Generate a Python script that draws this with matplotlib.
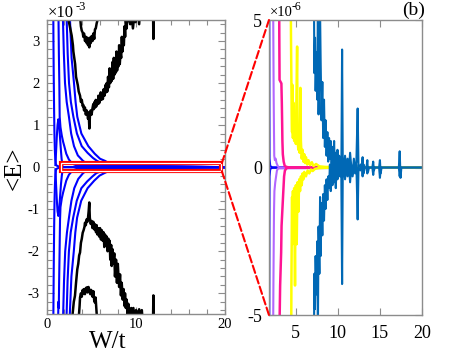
import matplotlib.pyplot as plt
from matplotlib.patches import Rectangle, ConnectionPatch
from matplotlib.ticker import MultipleLocator

plt.rcParams['font.family'] = ['Liberation Serif', 'DejaVu Serif']
plt.rcParams['axes.unicode_minus'] = False

# ---- left panel data, <E> in units of 1e-3 ----
b1_w = [0.74, 0.76, 0.79, 0.83, 0.87, 0.92, 0.97, 1.02, 1.1, 1.3, 1.6, 20]
b1_e = [3.8, 3.0, 2.2, 1.4, 0.8, 0.4, 0.18, 0.08, 0.04, 0.02, 0.0, 0.0]
hump_w = [0.98, 1.05, 1.13, 1.22, 1.31, 1.4, 1.5, 1.6, 1.68, 1.78]
hump_e = [0.05, 0.35, 0.7, 1.0, 1.14, 1.0, 0.7, 0.4, 0.19, 0.06]
b2_w = [1.30, 1.33, 1.37, 1.42, 1.46, 1.55, 1.7, 1.85, 1.98, 2.2, 2.5, 2.9, 3.5, 20]
b2_e = [3.8, 3.5, 2.7, 2.0, 1.2, 0.95, 0.75, 0.6, 0.5, 0.32, 0.18, 0.08, 0.03, 0]
b3_w = [1.80, 1.83, 1.93, 2.06, 2.25, 2.5, 2.75, 3.07, 3.5, 4.08, 4.6, 5.3, 20]
b3_e = [3.8, 3.5, 2.7, 2.0, 1.55, 1.2, 0.8, 0.5, 0.28, 0.15, 0.07, 0.03, 0]
b4_w = [2.22, 2.25, 2.36, 2.51, 2.72, 3.0, 3.4, 3.94, 4.6, 5.2, 5.66, 6.3, 7.0, 20]
b4_e = [3.8, 3.5, 2.7, 2.0, 1.55, 1.2, 0.8, 0.5, 0.34, 0.22, 0.15, 0.08, 0.04, 0]
b5_w = [2.58, 2.62, 2.8, 3.07, 3.25, 3.44, 3.9, 4.68, 5.4, 6.0, 6.56, 7.2, 8.0, 20]
b5_e = [3.8, 3.5, 2.6, 2.0, 1.55, 1.2, 0.8, 0.5, 0.32, 0.2, 0.15, 0.07, 0.03, 0]

nb1_w = [0.74, 0.77, 0.8, 0.84, 0.88, 0.93, 0.98, 1.03, 1.1, 1.3, 1.6, 20]
nb1_e = [-3.8, -3.0, -2.2, -1.4, -0.8, -0.4, -0.18, -0.08, -0.04, -0.02, 0, 0]
nhump_w = [0.98, 1.05, 1.13, 1.22, 1.31, 1.4, 1.5, 1.6, 1.7, 1.8]
nhump_e = [-0.05, -0.4, -0.75, -1.05, -1.16, -1.02, -0.72, -0.42, -0.2, -0.06]
nb2_w = [1.28, 1.30, 1.33, 1.36, 1.4, 1.45, 1.5, 1.55, 1.7, 1.85, 2.0, 2.2, 2.5, 2.9, 3.5, 20]
nb2_e = [-3.8, -3.45, -3.2, -3.35, -2.7, -2.0, -1.25, -0.95, -0.74, -0.6, -0.48, -0.32,
         -0.18, -0.08, -0.03, 0]
nb3_w = [1.82, 1.85, 1.95, 2.08, 2.28, 2.52, 2.78, 3.1, 3.55, 4.1, 4.6, 5.3, 20]
nb3_e = [-3.8, -3.5, -2.7, -2.0, -1.55, -1.18, -0.8, -0.5, -0.28, -0.14, -0.07, -0.03, 0]
nb4_w = [2.2, 2.24, 2.35, 2.5, 2.7, 2.98, 3.38, 3.9, 4.55, 5.15, 5.6, 6.3, 7.0, 20]
nb4_e = [-3.8, -3.5, -2.7, -2.0, -1.55, -1.2, -0.8, -0.5, -0.34, -0.22, -0.14, -0.08, -0.04, 0]
nb5_w = [2.56, 2.6, 2.78, 3.05, 3.22, 3.42, 3.88, 4.6, 5.35, 5.95, 6.5, 7.2, 8.0, 20]
nb5_e = [-3.8, -3.5, -2.6, -2.0, -1.55, -1.2, -0.8, -0.5, -0.32, -0.2, -0.14, -0.07, -0.03, 0]

# black noisy curves
k1_w = [2.36, 2.6, 2.81, 2.95, 3.0, 3.1, 3.2, 3.3, 3.4, 3.5, 3.6, 3.75, 3.85, 3.95, 4.05,
        4.12, 4.2, 4.3, 4.4, 4.5, 4.58, 4.65, 4.72, 4.8, 4.88, 4.95, 5.05, 5.15, 5.24,
        5.3, 5.38, 5.45, 5.52, 5.6, 5.68, 5.75, 5.82, 5.9, 6.0, 6.08, 6.15, 6.25, 6.32,
        6.4, 6.5, 6.6, 6.68, 6.75, 6.82, 6.9, 7.0, 7.08, 7.15, 7.25, 7.32, 7.4, 7.48,
        7.55, 7.62, 7.7, 7.78, 7.85, 7.92, 8.0, 8.08, 8.15, 8.22, 8.3, 8.38, 8.45, 8.52,
        8.6, 8.68, 8.75, 8.82, 8.9, 9.0, 9.1, 9.2, 9.4, 9.5, 9.7, 9.85, 10.0, 10.2, 10.4,
        10.55, 11.95, 12.0, 12.05, 20]
k1_e = [3.6, 3.35, 3.13, 2.9, 2.75, 2.6, 2.45, 2.15, 2.05, 1.95, 1.8, 1.7, 1.55, 1.6, 1.45,
        1.48, 1.35, 1.42, 1.25, 1.35, 1.28, 1.15, 1.3, 0.92, 1.3, 1.35, 1.25, 1.4, 1.5,
        1.38, 1.55, 1.42, 1.6, 1.45, 1.58, 1.5, 1.7, 1.52, 1.62, 1.78, 1.6, 1.75, 1.62,
        1.85, 1.7, 1.95, 1.78, 2.0, 1.8, 2.15, 1.9, 2.35, 2.0, 2.25, 2.05, 2.5, 2.1,
        2.6, 2.2, 2.45, 2.25, 2.75, 2.3, 2.55, 2.4, 2.9, 2.45, 2.7, 2.6, 3.1, 2.75,
        3.0, 2.9, 3.35, 3.1, 3.5, 3.3, 3.8, 3.55, 3.4, 3.7, 3.3, 3.6, 3.45, 3.8, 3.4,
        3.9, 3.9, 3.05, 3.9, 3.9]
k2_w = [3.75, 3.85, 3.94, 4.05, 4.12, 4.2, 4.31, 4.4, 4.5, 4.57, 4.65, 4.72, 4.79, 4.86,
        4.95, 5.06, 5.15, 5.25, 5.35, 5.43, 5.52, 5.62, 5.72, 5.8]
k2_e = [3.6, 3.35, 3.25, 3.2, 3.1, 3.18, 3.0, 3.1, 2.95, 3.08, 2.9, 3.0, 2.85, 3.08,
        2.95, 3.12, 3.0, 3.18, 3.05, 3.28, 3.3, 3.42, 3.5, 3.6]
k3_w = [2.85, 2.92, 3.05, 3.18, 3.3, 3.44, 3.55, 3.65, 3.75, 3.85, 3.95, 4.05, 4.15, 4.25,
        4.31, 4.4, 4.5, 4.57, 4.65, 4.72, 4.79, 4.85, 4.95, 5.06, 5.15, 5.25, 5.35, 5.45,
        5.55, 5.62, 5.7, 5.8, 5.9, 6.0, 6.1, 6.2, 6.3, 6.4, 6.48, 6.56, 6.65, 6.75, 6.85,
        6.93, 7.0, 7.08, 7.15, 7.25, 7.31, 7.4, 7.5, 7.6, 7.68, 7.8, 7.9, 8.0, 8.05, 8.15,
        8.25, 8.35, 8.44, 8.55, 8.65, 8.75, 8.81, 8.9, 9.0, 9.1, 9.18, 9.3, 9.5, 9.6,
        9.75, 9.9, 10.05, 10.2, 10.4, 10.55, 10.7, 10.85, 11.95, 12.0, 12.05, 20]
k3_e = [-3.6, -3.48, -3.2, -3.06, -2.75, -2.43, -2.3, -2.1, -2.03, -1.8, -1.7, -1.56, -1.5,
        -1.42, -1.32, -1.38, -1.24, -1.3, -1.2, -1.05, -0.84, -1.2, -1.35, -1.28, -1.45,
        -1.3, -1.48, -1.36, -1.55, -1.38, -1.6, -1.45, -1.65, -1.45, -1.72, -1.5, -1.75,
        -1.55, -1.9, -1.6, -1.85, -1.65, -2.0, -1.7, -1.95, -1.75, -2.2, -1.85, -2.35,
        -1.95, -2.3, -2.05, -2.6, -2.2, -2.75, -2.3, -2.5, -2.85, -2.55, -3.05, -2.75,
        -3.15, -2.9, -3.3, -3.0, -3.35, -3.15, -3.5, -3.25, -3.6, -3.35, -3.7, -3.35,
        -3.7, -3.4, -3.6, -3.38, -3.7, -3.4, -3.8, -3.8, -3.05, -3.8, -3.8]
k4_w = [3.6, 3.7, 3.75, 3.85, 3.95, 4.05, 4.12, 4.2, 4.3, 4.4, 4.5, 4.6, 4.7, 4.8, 4.9,
        5.0, 5.06, 5.15, 5.25, 5.35, 5.43, 5.5, 5.62, 5.7]
k4_e = [-3.6, -3.3, -3.1, -3.0, -3.08, -2.92, -3.0, -2.9, -3.02, -2.88, -2.86, -2.98,
        -2.85, -2.92, -3.02, -2.92, -3.0, -3.08, -2.95, -3.18, -3.22, -3.1, -3.48, -3.6]

# ---- right panel data, <E> in units of 1e-6 ----
blue_up_w = [1.84, 1.855, 1.87, 1.95, 2.2, 20]
blue_up_e = [5.5, 2.0, 0.3, 0.05, 0.0, 0]
blue_dn_w = [1.84, 1.855, 1.87, 1.95, 2.2, 20]
blue_dn_e = [-5.5, -2.0, -0.3, -0.05, 0.0, 0]
purp_up_w = [2.30, 2.33, 2.36, 2.40, 2.43, 2.5, 2.6, 2.7, 2.78, 2.85, 3.0, 20]
purp_up_e = [5.5, 4.0, 2.5, 1.2, 0.4, 0.25, 0.3, 0.15, 0.1, 0.05, 0.0, 0]
purp_dn_w = [2.3, 2.33, 2.37, 2.4, 2.45, 2.55, 2.65, 2.75, 2.9, 20]
purp_dn_e = [-5.5, -4.0, -2.5, -1.5, -0.8, -0.5, -0.3, -0.1, -0.03, 0]
mag_up_w = [3.02, 3.03, 3.05, 3.06, 3.28, 3.33, 3.37, 3.40, 3.45, 3.55, 3.68, 3.9, 4.2, 20]
mag_up_e = [5.5, 4.5, 3.5, 2.97, 2.85, 2.2, 1.5, 0.9, 0.45, 0.2, 0.05, 0.02, 0, 0]
mag_dn_w = [3.05, 3.13, 3.25, 3.3, 3.5, 3.6, 3.7, 3.9, 4.2, 20]
mag_dn_e = [-5.5, -4.0, -2.88, -1.98, -0.85, -0.3, -0.1, -0.02, 0, 0]
yel_up_w = [4.40, 4.42, 4.45, 4.48, 4.5, 4.55, 4.6, 4.65, 4.7, 4.8, 4.9, 5.0, 5.15, 5.2,
            5.3, 5.4, 5.45, 5.54, 5.6, 5.7, 5.8, 5.9, 6.0, 6.1, 6.2, 6.35, 6.5, 6.7, 6.9,
            7.1, 7.4, 7.8, 8.5, 20]
yel_up_e = [5.5, 4.5, 3.5, 2.6, 1.9, 1.2, 2.8, 1.0, 2.2, 0.9, 1.4, 0.8, 4.1, 0.9, 0.6,
            0.8, 0.5, 2.7, 0.9, 0.3, 0.6, 0.2, 0.45, 0.15, 0.35, 0.1, 0.25, 0.08, 0.18,
            0.05, 0.12, 0.04, 0.02, 0]
yel_dn_w = [4.45, 4.47, 4.5, 4.52, 4.55, 4.6, 4.65, 4.7, 4.8, 4.9, 4.95, 5.0, 5.1, 5.2,
            5.3, 5.4, 5.5, 5.6, 5.7, 5.8, 5.9, 6.0, 6.2, 6.4, 6.6, 6.8, 7.0, 7.3, 7.8, 8.5, 20]
yel_dn_e = [-5.5, -4.0, -2.8, -1.8, -1.0, -2.6, -0.8, -1.9, -0.7, -4.0, -1.2, -0.6, -2.6,
            -0.5, -1.5, -0.4, -0.8, -0.3, -0.6, -0.2, -0.4, -0.15, -0.3, -0.1, -0.2,
            -0.07, -0.12, -0.04, -0.02, -0.01, 0]
stl_up_w = [7.15, 7.2, 7.28, 7.35, 7.45, 7.55, 7.62, 7.7, 7.8, 7.85, 7.95, 8.05, 8.15,
            8.25, 8.35, 8.45, 8.55, 8.65, 8.75, 8.85, 8.95, 9.05, 9.15, 9.25, 9.35, 9.45,
            9.55, 9.65, 9.75, 9.85, 9.95, 10.05, 10.15, 10.3, 10.42, 10.5, 10.58, 10.7,
            10.85, 11.0, 11.15, 11.3, 11.45, 11.6, 11.75, 11.9, 12.05, 12.2, 12.35, 12.45,
            12.65, 12.85, 12.94, 13.05, 13.2, 13.4, 13.5, 13.58, 13.7, 14.1, 14.2, 14.28,
            14.4, 14.9, 15.0, 15.08, 15.2, 17.25, 17.35, 17.45, 17.55, 20]
stl_up_e = [6.0, 3.2, 4.4, 2.6, 3.9, 2.3, 5.6, 1.8, 3.4, 6.0, 3.6, 1.6, 2.9, 1.0, 2.3,
            0.7, 1.6, 0.4, 1.2, 0.2, 1.0, 0.3, 0.9, -0.2, 0.7, 0.1, 0.9, -0.3, 0.5, 0.0,
            0.6, -0.3, 0.4, 0.0, 0.3, 4.0, 0.1, -0.3, 0.4, -0.1, 0.3, -0.2, 0.5, 0.0, -0.2,
            0.3, -0.1, 0.2, 2.0, 0.0, -0.1, 0.1, 0.35, -0.2, 0.0, 0.0, 0.25, -0.15, 0.0,
            0.0, 0.2, -0.1, 0.0, 0.0, 0.25, -0.2, 0.0, 0.0, 0.55, -0.35, 0.0, 0]
stl_dn_w = [7.15, 7.2, 7.27, 7.35, 7.45, 7.55, 7.62, 7.7, 7.8, 7.88, 7.95, 8.05, 8.15,
            8.25, 8.35, 8.45, 8.55, 8.65, 8.75, 8.85, 8.95, 9.05, 9.15, 9.25, 9.35, 9.45,
            9.55, 9.65, 9.75, 9.85, 9.95, 10.1, 10.25, 10.4, 10.5, 10.58, 10.7, 10.85,
            11.0, 11.15, 11.3, 11.45, 11.6, 11.75, 11.9, 12.05, 12.2, 12.35, 12.45, 12.7,
            12.85, 12.94, 13.05, 13.2, 13.4, 13.5, 13.6, 14.1, 14.2, 14.3, 14.9, 15.0,
            15.1, 17.25, 17.35, 17.45, 20]
stl_dn_e = [-6.0, -3.6, -4.8, -3.0, -4.3, -2.5, -5.6, -2.0, -3.6, -1.0, -3.0, -1.2, -2.3,
            -0.9, -1.8, -0.6, -1.4, -0.4, -1.1, -0.3, -0.7, 0.1, -0.8, -0.1, -0.6, 0.2,
            -0.5, 0.0, -0.7, 0.1, -0.4, 0.2, -0.3, 0.0, -3.95, -0.1, 0.3, -0.4, 0.1, -0.3,
            0.2, -0.5, 0.1, -0.3, 0.0, -0.2, 0.1, -1.76, 0.0, 0.1, 0.0, -0.3, 0.1, 0.0,
            0.0, -0.2, 0.0, 0.0, -0.25, 0.0, 0.0, -0.35, 0.0, 0.0, -0.3, 0.0, 0]

left_xticks = [0, 10, 20]
left_yticks = [-3, -2, -1, 0, 1, 2, 3]
right_xticks = [5, 10, 15, 20]
right_yticks = [-5, 0, 5]

GRAY = '#8c8c8c'

fig = plt.figure(figsize=(4.49, 3.53), dpi=100)
ax1 = fig.add_axes([0.104, 0.1096, 0.396, 0.8337])
ax2 = fig.add_axes([0.599, 0.1076, 0.3408, 0.8357])

# left panel
blue_curves = [(b1_w, b1_e), (hump_w, hump_e), (b2_w, b2_e), (b3_w, b3_e), (b4_w, b4_e),
               (b5_w, b5_e), (nb1_w, nb1_e), (nhump_w, nhump_e), (nb2_w, nb2_e),
               (nb3_w, nb3_e), (nb4_w, nb4_e), (nb5_w, nb5_e)]
for w, e in blue_curves:
    ax1.plot(w, [v * 1e-3 for v in e], color='#0000ff', lw=1.5)
for w, e in [(k1_w, k1_e), (k2_w, k2_e), (k3_w, k3_e), (k4_w, k4_e)]:
    ax1.plot(w, [v * 1e-3 for v in e], color='black', lw=1.8)

ax1.add_patch(Rectangle((1.6, -0.095e-3), 18.05, 0.19e-3, fill=False, ec='red',
                        lw=3, zorder=4, clip_on=False))
ax1.add_patch(Rectangle((1.6, -0.095e-3), 18.05, 0.19e-3, fill=False, ec='white',
                        lw=0.9, zorder=5, clip_on=False))

ax1.set_xlim(0, 20)
ax1.set_ylim(-3.5e-3, 3.5e-3)
ax1.set_xticks(left_xticks)
ax1.set_xticklabels([str(t) for t in left_xticks])
ax1.xaxis.set_minor_locator(MultipleLocator(2))
ax1.set_yticks([t * 1e-3 for t in left_yticks])
ax1.set_yticklabels([str(t) for t in left_yticks])
ax1.yaxis.set_minor_locator(MultipleLocator(0.2e-3))

# right panel
right_curves = [
    (blue_up_w, blue_up_e, '#0000ff', 1.5), (blue_dn_w, blue_dn_e, '#0000ff', 1.5),
    (purp_up_w, purp_up_e, '#b266ff', 1.5), (purp_dn_w, purp_dn_e, '#b266ff', 1.5),
    (mag_up_w, mag_up_e, '#ff1493', 1.8), (mag_dn_w, mag_dn_e, '#ff1493', 1.8),
    (yel_up_w, yel_up_e, '#ffff00', 1.8), (yel_dn_w, yel_dn_e, '#ffff00', 1.8),
    (stl_up_w, stl_up_e, '#0068b5', 1.5), (stl_dn_w, stl_dn_e, '#0068b5', 1.5),
]
for w, e, c, lw in right_curves:
    ax2.plot(w, [v * 1e-6 for v in e], color=c, lw=lw)

ax2.set_xlim(1.8, 20)
ax2.set_ylim(-5e-6, 5e-6)
ax2.set_xticks(right_xticks)
ax2.set_xticklabels([str(t) for t in right_xticks])
ax2.set_yticks([t * 1e-6 for t in right_yticks])
ax2.set_yticklabels([str(t) for t in right_yticks])

for ax in (ax1, ax2):
    for sp in ax.spines.values():
        sp.set_color(GRAY)
        sp.set_linewidth(1.0)
    ax.tick_params(which='both', direction='in', top=True, right=True,
                   color=GRAY, labelcolor='black')
    ax.tick_params(which='major', length=5, width=0.8)
    ax.tick_params(which='minor', length=3.5, width=0.8)

ax1.tick_params(axis='both', labelsize=10.5)
ax1.tick_params(axis='x', pad=2.5)
ax1.tick_params(axis='y', pad=5)
ax2.tick_params(axis='both', labelsize=13)
ax2.tick_params(axis='x', pad=7)
ax2.tick_params(axis='y', pad=5)

# scale factors above each panel
fig.text(48 / 449, 1 - 17 / 353, '\u00d710', fontsize=12, va='baseline')
fig.text(75.5 / 449, 1 - 9.5 / 353, '-3', fontsize=9, va='baseline')
fig.text(270 / 449, 1 - 16.5 / 353, '\u00d710', fontsize=10.5, va='baseline')
fig.text(292 / 449, 1 - 9.5 / 353, '-6', fontsize=8.5, va='baseline')

# zoom connectors
for ya, yb in [(0.095e-3, 1), (-0.095e-3, 0)]:
    con = ConnectionPatch(xyA=(19.7, ya), coordsA=ax1.transData,
                          xyB=(0, yb), coordsB=ax2.transAxes,
                          color='red', ls='--', lw=1.5)
    fig.add_artist(con)

fig.text(107.5 / 449, 1 - 348 / 353, 'W/t', ha='center', va='baseline', fontsize=18)
fig.text(15 / 449, 1 - 168 / 353, '<E>', rotation=90, ha='center', va='center',
         fontsize=18)
fig.text(414 / 449, 0.972, '(b)', ha='center', va='center', fontsize=14)

fig.savefig('out.png', dpi=100)
